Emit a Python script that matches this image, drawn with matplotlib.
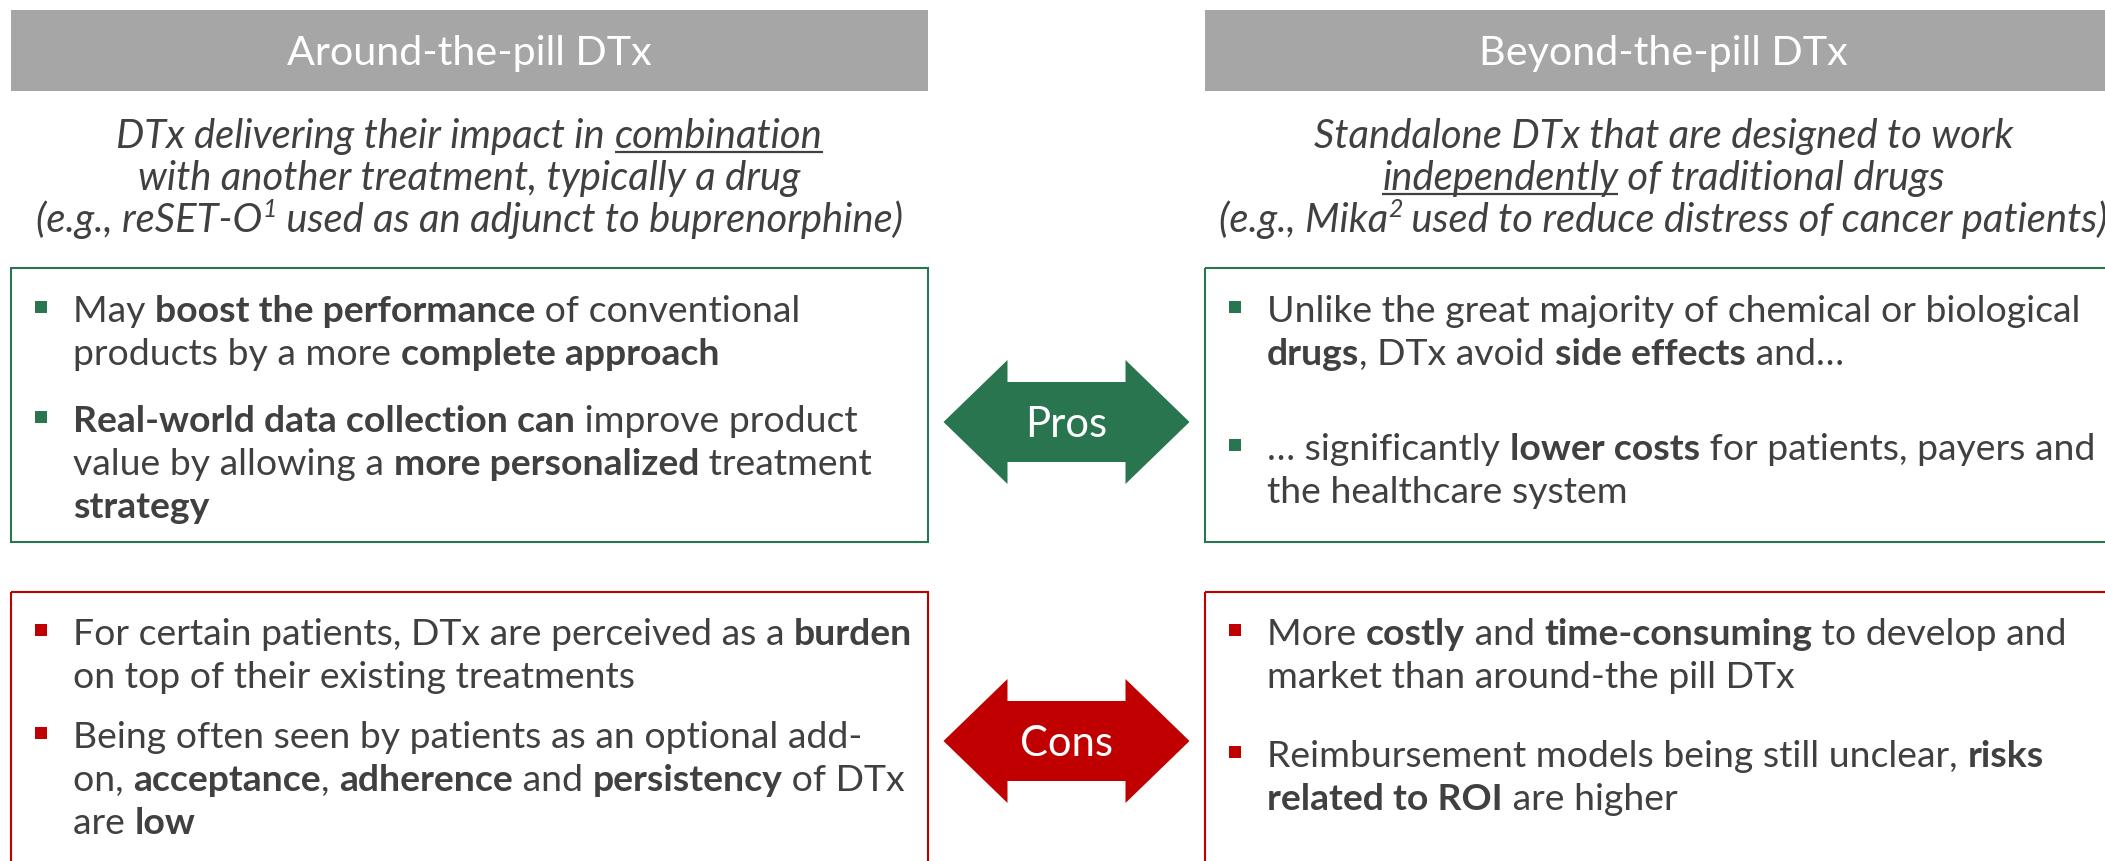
import re
import matplotlib
matplotlib.use('Agg')
import matplotlib.pyplot as plt
from matplotlib.patches import Rectangle, Polygon

# text content of the slide
headers = ['Around-the-pill DTx', 'Beyond-the-pill DTx']
descriptions = [
    ['DTx delivering their impact in __combination__',
     'with another treatment, typically a drug',
     '(e.g., reSET-O^1 used as an adjunct to buprenorphine)'],
    ['Standalone DTx that are designed to work',
     '__independently__ of traditional drugs',
     '(e.g., Mika^2 used to reduce distress of cancer patients)'],
]
pros = [
    [['May **boost the performance** of conventional',
      'products by a more **complete approach**'],
     ['**Real-world data collection can** improve product',
      'value by allowing a **more personalized** treatment',
      '**strategy**']],
    [['Unlike the great majority of chemical or biological',
      '**drugs**, DTx avoid **side effects** and\u2026'],
     ['\u2026 significantly **lower costs** for patients, payers and',
      'the healthcare system']],
]
cons = [
    [['For certain patients, DTx are perceived as a **burden**',
      'on top of their existing treatments'],
     ['Being often seen by patients as an optional add-',
      'on, **acceptance**, **adherence** and **persistency** of DTx',
      'are **low**']],
    [['More **costly** and **time-consuming** to develop and',
      'market than around-the pill DTx'],
     ['Reimbursement models being still unclear, **risks**',
      '**related to ROI** are higher']],
]
labels = ['Pros', 'Cons']

# layout (pixels)
W, H = 2105, 861
col_x = [11, 1205]
col_w = 917
pros_bullet_y = [[322, 432], [322, 460]]
cons_bullet_y = [[645, 748], [645, 767]]
desc_y = [148, 190, 232]
line_h = 43

GREEN = '#287550'
RED = '#C00000'
GREY = '#A6A6A6'
TXT = '#404040'
FONT = 'Lato'

fig = plt.figure(figsize=(W / 100, H / 100), dpi=100)
ax = fig.add_axes([0, 0, 1, 1])
ax.set_xlim(0, W)
ax.set_ylim(H, 0)
ax.axis('off')
rend = fig.canvas.get_renderer()


def adv(s, size, weight='normal', style='normal'):
    # advance width in px, bars on both sides so spaces count
    t = ax.text(0, 0, '|' + s + '|', fontsize=size, family=FONT,
                fontweight=weight, fontstyle=style)
    w = t.get_window_extent(rend).width
    t.set_text('||')
    w -= t.get_window_extent(rend).width
    t.remove()
    return w


def pieces(line):
    out = []
    bold = under = False
    for p in re.split(r'(\*\*|__|\^\d)', line):
        if p == '**':
            bold = not bold
        elif p == '__':
            under = not under
        elif p.startswith('^'):
            out.append((p[1:], bold, under, True))
        elif p:
            out.append((p, bold, under, False))
    return out


def rich(x, y, line, size, color=TXT, style='normal', center=False):
    segs = pieces(line)
    ws = [adv(s, size * (0.62 if sup else 1), 'bold' if b else 'normal', style)
          for s, b, u, sup in segs]
    if center:
        x -= sum(ws) / 2
    px = size / 0.72
    for (s, b, u, sup), w in zip(segs, ws):
        yy = y - 0.38 * px if sup else y
        ax.text(x, yy, s, fontsize=size * (0.62 if sup else 1), family=FONT,
                fontweight='bold' if b else 'normal', fontstyle=style,
                color=color, ha='left', va='baseline')
        if u:
            ax.plot([x, x + w], [y + 0.1 * px, y + 0.1 * px], color=color, lw=1.6,
                    solid_capstyle='butt')
        x += w


# font sizes fitted to the widths of the reference lines
body_size = 26 * 811 / adv(pros[1][0][0], 26)
desc_size = 26 * 664 / adv(descriptions[0][1], 26, style='italic')
head_size = 24 * 366 / adv(headers[0], 24)
lab_size = 26 * 82 / adv(labels[0], 26)

for i in range(2):
    x0 = col_x[i]
    cx = x0 + col_w / 2
    ax.add_patch(Rectangle((x0, 10), col_w, 81, facecolor=GREY, edgecolor='none'))
    ax.text(cx, 65, headers[i], fontsize=head_size, family=FONT,
            color='white', ha='center', va='baseline')
    for j, line in enumerate(descriptions[i]):
        rich(cx, desc_y[j], line, desc_size, style='italic', center=True)

    for items, ys, col, top, bot in [(pros[i], pros_bullet_y[i], GREEN, 268, 542),
                                     (cons[i], cons_bullet_y[i], RED, 592, 920)]:
        ax.add_patch(Rectangle((x0, top), col_w, bot - top, facecolor='none',
                               edgecolor=col, lw=1.5))
        for lines, y0 in zip(items, ys):
            ax.add_patch(Rectangle((x0 + 24, y0 - 21), 12, 12, facecolor=col,
                                   edgecolor='none'))
            for k, line in enumerate(lines):
                rich(x0 + 62, y0 + k * line_h, line, body_size)

# double arrows between the columns
acx = (col_x[0] + col_w + col_x[1]) / 2
half_len, head_len, shaft_h, head_h = 123, 64, 40, 62
for lab, cy, col in [(labels[0], 422, GREEN), (labels[1], 741, RED)]:
    l, rr = acx - half_len, acx + half_len
    pts = [(l, cy), (l + head_len, cy - head_h), (l + head_len, cy - shaft_h),
           (rr - head_len, cy - shaft_h), (rr - head_len, cy - head_h), (rr, cy),
           (rr - head_len, cy + head_h), (rr - head_len, cy + shaft_h),
           (l + head_len, cy + shaft_h), (l + head_len, cy + head_h)]
    ax.add_patch(Polygon(pts, closed=True, facecolor=col, edgecolor='none'))
    ax.text(acx, cy + 15, lab, fontsize=lab_size, family=FONT, color='white',
            ha='center', va='baseline')

fig.savefig('out.png', dpi=100)
